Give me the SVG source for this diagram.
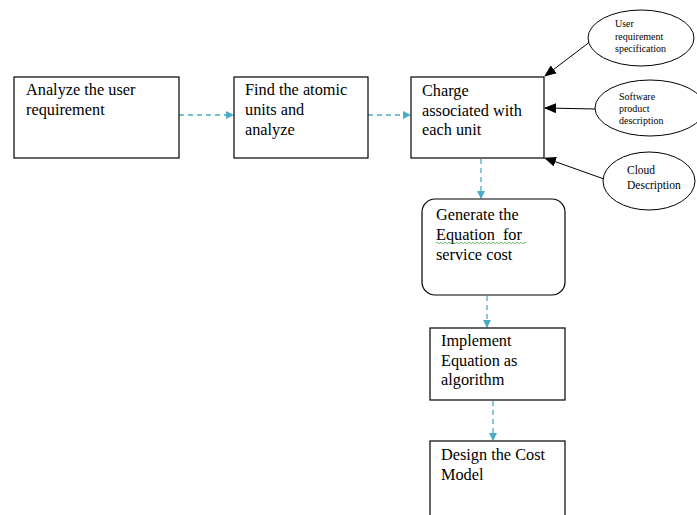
<svg xmlns="http://www.w3.org/2000/svg" width="697" height="515" viewBox="0 0 697 515">
<defs>
<marker id="blue" markerWidth="8" markerHeight="8" refX="7" refY="4" orient="auto" markerUnits="userSpaceOnUse"><path d="M0,0 L8,4 L0,8 Z" fill="#4bacc6"/></marker>
<marker id="black" markerWidth="12" markerHeight="10" refX="11" refY="5" orient="auto" markerUnits="userSpaceOnUse"><path d="M0,0 L12,5 L0,10 Z" fill="#000"/></marker>
</defs>
<style>
.box{fill:#fff;stroke:#000;stroke-width:1.2}
.ell{fill:#fff;stroke:#000;stroke-width:1}
.t{font-family:"Liberation Serif","Times New Roman",serif;font-size:16.3px;fill:#000}
.s{font-family:"Liberation Serif","Times New Roman",serif;font-size:10px;fill:#000}
.dash{stroke:#4bacc6;stroke-width:1.3;stroke-dasharray:5,4;fill:none;marker-end:url(#blue)}
.sol{stroke:#000;stroke-width:1;fill:none;marker-end:url(#black)}
</style>
<rect width="697" height="515" fill="#fff"/>
<g id="connectors">
<line class="dash" x1="179" y1="115" x2="233" y2="115"/>
<line class="dash" x1="368" y1="115" x2="410" y2="115"/>
<line class="dash" x1="481" y1="159" x2="481" y2="198"/>
<line class="dash" x1="487" y1="296" x2="487" y2="327"/>
<line class="dash" x1="493" y1="401" x2="493" y2="440"/>
<line class="sol" x1="591" y1="41" x2="545" y2="76"/>
<line class="sol" x1="596" y1="109" x2="545" y2="108"/>
<line class="sol" x1="604" y1="179" x2="545" y2="158"/>
</g>
<g id="n1"><rect class="box" x="14" y="77" width="165" height="81"/><text class="t" x="26" y="95">Analyze the user</text><text class="t" x="26" y="115">requirement</text></g>
<g id="n2"><rect class="box" x="234" y="77" width="134" height="81"/><text class="t" x="245" y="95">Find the atomic</text><text class="t" x="245" y="115">units and</text><text class="t" x="245" y="135">analyze</text></g>
<g id="n3"><rect class="box" x="411" y="77" width="133" height="81"/><text class="t" x="422" y="96">Charge</text><text class="t" x="422" y="116">associated with</text><text class="t" x="422" y="135">each unit</text></g>
<g id="n4"><rect class="box" x="422" y="199" width="143" height="96" rx="13"/><text class="t" x="436" y="220">Generate the</text><text class="t" x="436" y="240" xml:space="preserve">Equation  for</text><path d="M436,243 q1,-1.5 2,0 t2,0 t2,0 t2,0 t2,0 t2,0 t2,0 t2,0 t2,0 t2,0 t2,0 t2,0 t2,0 t2,0 t2,0 t2,0 t2,0 t2,0 t2,0 t2,0 t2,0 t2,0 t2,0 t2,0 t2,0 t2,0 t2,0 t2,0 t2,0 t2,0 t2,0 t2,0 t2,0 t2,0 t2,0 t2,0 t2,0 t2,0 t2,0 t2,0 t2,0 t2,0 t2,0 t2,0 t2,0" fill="none" stroke="#4fa64f" stroke-width="0.8"/><text class="t" x="436" y="260">service cost</text></g>
<g id="n5"><rect class="box" x="430" y="328" width="135" height="72"/><text class="t" x="441" y="346">Implement</text><text class="t" x="441" y="366">Equation as</text><text class="t" x="441" y="385">algorithm</text></g>
<g id="n6"><rect class="box" x="430" y="441" width="135" height="80"/><text class="t" x="441" y="460">Design the Cost</text><text class="t" x="441" y="480">Model</text></g>
<g id="e1"><ellipse class="ell" cx="641" cy="38" rx="53" ry="28"/><text class="s" x="615" y="27">User</text><text class="s" x="615" y="40">requirement</text><text class="s" x="615" y="52">specification</text></g>
<g id="e2"><ellipse class="ell" cx="650" cy="108" rx="55" ry="28"/><text class="s" x="619" y="100">Software</text><text class="s" x="619" y="112">product</text><text class="s" x="619" y="124">description</text></g>
<g id="e3"><ellipse class="ell" cx="649" cy="181" rx="46" ry="29"/><text class="s" x="627" y="174" style="font-size:11.5px">Cloud</text><text class="s" x="627" y="189" style="font-size:11.5px">Description</text></g>
</svg>
